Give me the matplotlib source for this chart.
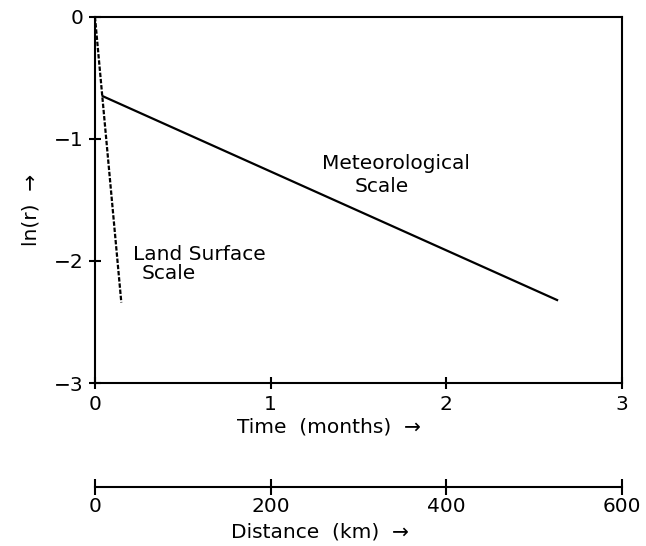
import matplotlib
matplotlib.use("Agg")
import matplotlib.pyplot as plt

# decorrelation curves: ln(r) against lag time in months
land_t = [0.0, 0.15]
land_lnr = [0.0, -2.34]
met_t = [0.045, 2.63]
met_lnr = [-0.65, -2.32]

time_ticks = [0, 1, 2, 3]
lnr_ticks = [0, -1, -2, -3]
dist_ticks = [0, 200, 400, 600]

plt.rcParams['font.family'] = 'DejaVu Sans'
plt.rcParams['font.size'] = 14.5

fig = plt.figure(figsize=(6.46, 5.46), dpi=100)
ax = fig.add_axes([0.147, 0.2985, 0.816, 0.6705])

ax.plot(land_t, land_lnr, color='black', lw=1.6, linestyle=(0, (2, 0.8)))
ax.plot(met_t, met_lnr, color='black', lw=1.6)

ax.set_xlim(0, 3)
ax.set_ylim(-3, 0)
ax.set_xticks(time_ticks)
ax.set_yticks(lnr_ticks)
ax.set_xticklabels([str(t) for t in time_ticks])
ax.set_yticklabels(['0', '\u22121', '\u22122', '\u22123'])
ax.tick_params(direction='inout', length=9, width=1.5, pad=4)
for s in ax.spines.values():
    s.set_linewidth(1.5)

ax.set_xlabel('Time  (months)  \u2192')
ax.xaxis.set_label_coords(0.444, -0.095)
ax.set_ylabel('ln(r)  \u2192')
ax.yaxis.set_label_coords(-0.104, 0.473)

ax.text(1.29, -1.2, 'Meteorological', ha='left', va='center')
ax.text(1.48, -1.39, 'Scale', ha='left', va='center')
ax.text(0.216, -1.95, 'Land Surface', ha='left', va='center')
ax.text(0.267, -2.1, 'Scale', ha='left', va='center')

# distance scale drawn as a bare axis underneath
ax2 = fig.add_axes([0.147, 0.108, 0.816, 0.0001])
ax2.set_xlim(0, 600)
ax2.set_xticks(dist_ticks)
ax2.set_yticks([])
for side in ['left', 'right', 'top']:
    ax2.spines[side].set_visible(False)
ax2.spines['bottom'].set_linewidth(1.5)
ax2.tick_params(direction='inout', length=12, width=1.5, pad=1)
fig.text(0.495, 0.026, 'Distance  (km)  \u2192', ha='center', va='center')

fig.savefig('out.png', dpi=100)
